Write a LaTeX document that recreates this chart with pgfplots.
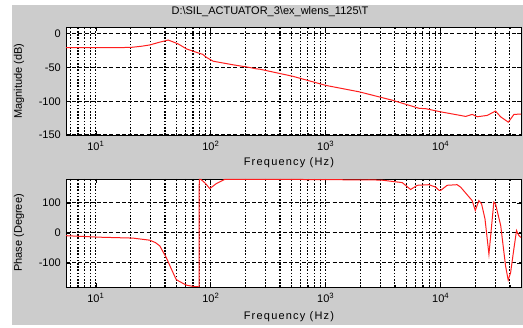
\documentclass[border=0pt]{standalone}
\usepackage{pgfplots}
\pgfplotsset{compat=1.18}
\usepackage{fontspec}
\setmainfont{Liberation Sans}
\newfontfamily\lbl[LetterSpace=11]{Liberation Sans}
\definecolor{figgray}{RGB}{204,204,204}
\definecolor{matred}{RGB}{255,30,30}

\pgfplotstableread{
f m
5.5 -20.5
10 -20.5
15 -20.5
20 -20.3
25 -18.5
29.5 -16.6
35 -13
42.6 -9.3
52 -15
61.5 -22.5
75 -27.5
85 -30.5
91.6 -35
105 -40.7
156 -46
210 -49.5
249 -52
267 -52.5
516 -63
1000 -76.5
1950 -86
3800 -98.5
6500 -110.5
7400 -111
10000 -115.7
14400 -120.6
16500 -122.5
18800 -119.5
20800 -123
25400 -121
30000 -114.5
33200 -123
38800 -131
43400 -119.5
50000 -119
}\magdata

\pgfplotstableread{
f p
5.5 -9
10.8 -14
21 -17
29.5 -24
33 -32
36 -43
41 -82
45.5 -121
50 -155
53.6 -162
61.5 -174
70 -178
79 -179.5
79.4 179
82 179
90 165
98 148
112 165
132 178.5
500 178.5
1000 178
1950 177
2380 177.5
3100 176
4630 168
5480 145
6260 159
7900 161
9050 153
9700 142
10000 142
11400 159
13900 161
14900 153
18800 108
20000 75
21500 108
22700 97
24300 47
26300 -71
29000 103
30000 97
33300 25
36700 -110
38700 -157
40600 -132
43300 -54
45700 8
48000 -9
50000 -15
}\phasedata

\pgfplotsset{
  bodeax/.style={
    width=455pt, height=108pt, scale only axis,
    xmin=5.5, xmax=5e4,
    axis background/.style={fill=white},
    xtick={10,100,1000,10000},
    xticklabels={10\textsuperscript{1},10\textsuperscript{2},10\textsuperscript{3},10\textsuperscript{4}},
    minor xtick={6,7,8,9,20,30,40,50,60,70,80,90,200,300,400,500,600,700,800,900,2000,3000,4000,5000,6000,7000,8000,9000,20000,30000,40000},
    xmajorgrids, xminorgrids, ymajorgrids,
    major grid style={black, line width=1pt},
    minor grid style={black, line width=1.1pt, dash pattern=on 1.5pt off 1.7pt},
    every axis x grid/.append style={dash pattern=on 1.5pt off 1.7pt, line width=1.1pt},
    every axis y grid/.append style={dash pattern=on 4pt off 2.2pt},
    axis line style={black, line width=0.8pt},
    tick style={black, line width=0.6pt},
    tick align=inside, major tick length=4pt, minor tick length=2pt,
    ticklabel style={font=\fontsize{11}{13}\selectfont},
    xticklabel style={inner sep=0pt, yshift=-6pt},
    yticklabel style={inner sep=0pt, xshift=-5pt},
    every axis y label/.style={at={(axis description cs:-0.103,0.5)}, rotate=90, anchor=center, font=\fontsize{11}{13}\selectfont},
  }
}

\begin{document}
\begin{tikzpicture}
\fill[white] (0pt,0pt) rectangle (523pt,328pt);
\fill[figgray] (12pt,3pt) rectangle (523pt,323pt);
\node[font=\fontsize{11}{13}\selectfont, inner sep=0pt] at (270pt,316pt) {D:\textbackslash SIL\_ACTUATOR\_3\textbackslash ex\_wlens\_1125\textbackslash T};

\begin{semilogxaxis}[bodeax, at={(66pt,193pt)}, anchor=south west,
  ymin=-150, ymax=10, ytick={-150,-100,-50,0},
  yticklabels={-150,-100,-50,0},
  every axis x label/.style={at={(axis description cs:0.49,-0.26)}, anchor=center, font=\lbl\fontsize{11}{13}\selectfont},
  xlabel={Frequency (Hz)}, ylabel={Magnitude (dB)}]
\addplot[matred, line width=1pt] table[x=f, y=m] {\magdata};
\end{semilogxaxis}

\begin{semilogxaxis}[bodeax, at={(66pt,41pt)}, anchor=south west,
  ymin=-180, ymax=180, ytick={-100,0,100},
  yticklabels={-100,0,100},
  every axis x label/.style={at={(axis description cs:0.49,-0.278)}, anchor=center, font=\lbl\fontsize{11}{13}\selectfont},
  xlabel={Frequency (Hz)}, ylabel={Phase (Degree)}]
\addplot[matred, line width=1pt] table[x=f, y=p] {\phasedata};
\end{semilogxaxis}
\end{tikzpicture}
\end{document}
